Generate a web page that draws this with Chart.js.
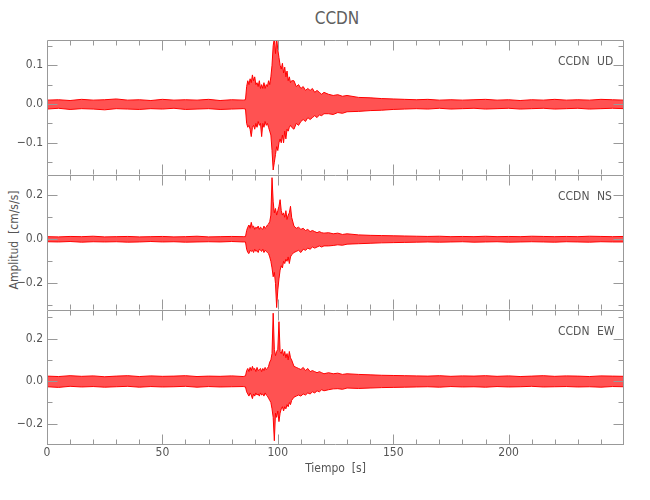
<!DOCTYPE html>
<html>
<head>
<meta charset="utf-8">
<script src="https://cdn.jsdelivr.net/npm/chart.js@4.4.1/dist/chart.umd.min.js"></script>
<style>
  html, body { margin: 0; padding: 0; background: #fff; }
  #wrap {
    position: relative; width: 650px; height: 500px; overflow: hidden;
    font-family: "Liberation Sans Narrow", "DejaVu Sans Condensed", "Liberation Sans", sans-serif;
    color: #555;
  }
  #wrap canvas { position: absolute; left: 0; }
  #title { position: absolute; left: 0; width: 674px; top: 8px; text-align: center; font-size: 17px; color: #606060; }
  #ylabel {
    position: absolute; left: 14px; top: 240px; white-space: nowrap; font-size: 12px; color: #555;
    transform: translate(-50%, -50%) rotate(-90deg);
  }
</style>
</head>
<body>
<div id="wrap">
  <div id="title">CCDN</div>
  <div id="ylabel">Amplitud&nbsp;&nbsp;[cm/s/s]</div>
  <canvas id="ud" width="650" height="135" style="top:40px"></canvas>
  <canvas id="ns" width="650" height="135" style="top:175px"></canvas>
  <canvas id="ew" width="650" height="190" style="top:310px"></canvas>
</div>
<script>
// sample times [s] of the envelope
const times = [
  0, 5, 10, 15, 20, 25, 30, 35, 40, 45, 50, 55, 60, 65, 70, 75, 80, 85,
  86, 86.5, 87, 87.5, 88, 88.5, 89, 89.5, 90, 90.5, 91, 91.5, 92, 92.5, 93, 93.5, 94, 94.5, 95, 95.5,
  96, 96.5, 97, 97.5, 98, 98.5, 99, 99.5, 100, 100.5, 101, 101.5, 102, 102.5, 103, 103.5, 104, 104.5, 105, 105.5, 106,
  107, 108, 109, 110, 111, 112, 113, 114, 115, 116, 117, 118, 119, 120,
  122, 124, 126, 128, 130,
  135, 140, 145, 150, 155, 160, 165, 170, 175, 180, 185, 190, 195, 200, 205, 210, 215, 220, 225, 230, 235, 240, 245, 250
];

// UD component: upper / lower envelope [cm/s/s]
const udHigh = [
  0.010, 0.011, 0.009, 0.012, 0.010, 0.011, 0.013, 0.010, 0.011, 0.009, 0.012, 0.010, 0.011, 0.010, 0.012, 0.009, 0.011, 0.010,
  0.011, 0.045, 0.06, 0.05, 0.065, 0.055, 0.075, 0.06, 0.07, 0.05, 0.055, 0.045, 0.06, 0.04, 0.05, 0.04, 0.055, 0.04, 0.05, 0.045,
  0.06, 0.05, 0.07, 0.1, 0.15, 0.17, 0.13, 0.17, 0.14, 0.12, 0.1, 0.09, 0.105, 0.08, 0.095, 0.07, 0.085, 0.06, 0.07, 0.055, 0.06,
  0.06, 0.045, 0.05, 0.04, 0.045, 0.035, 0.04, 0.035, 0.04, 0.03, 0.035, 0.03, 0.025, 0.03,
  0.025, 0.022, 0.024, 0.02, 0.022,
  0.017, 0.016, 0.014, 0.013, 0.012, 0.011, 0.012, 0.010, 0.011, 0.010, 0.011, 0.012, 0.010, 0.011, 0.009, 0.011, 0.010, 0.012, 0.010, 0.011, 0.010, 0.012, 0.011, 0.010
];
const udLow = [
  -0.013, -0.011, -0.014, -0.012, -0.013, -0.015, -0.012, -0.013, -0.014, -0.012, -0.013, -0.011, -0.014, -0.013, -0.012, -0.014, -0.013, -0.012,
  -0.013, -0.05, -0.06, -0.055, -0.065, -0.084, -0.06, -0.055, -0.065, -0.05, -0.06, -0.045, -0.055, -0.05, -0.084, -0.05, -0.06, -0.045, -0.055, -0.05,
  -0.06, -0.07, -0.08, -0.12, -0.17, -0.15, -0.13, -0.11, -0.12, -0.1, -0.09, -0.1, -0.08, -0.1, -0.07, -0.09, -0.065, -0.07, -0.06, -0.055, -0.06,
  -0.065, -0.05, -0.055, -0.045, -0.04, -0.045, -0.035, -0.04, -0.035, -0.03, -0.035, -0.028, -0.03, -0.025,
  -0.025, -0.027, -0.022, -0.024, -0.02,
  -0.019, -0.017, -0.016, -0.014, -0.013, -0.012, -0.013, -0.011, -0.013, -0.012, -0.011, -0.013, -0.012, -0.011, -0.013, -0.012, -0.011, -0.013, -0.012, -0.011, -0.013, -0.012, -0.011, -0.012
];

// NS component
const nsHigh = [
  0.012, 0.011, 0.013, 0.012, 0.014, 0.011, 0.012, 0.013, 0.011, 0.012, 0.013, 0.011, 0.012, 0.014, 0.011, 0.012, 0.013, 0.012,
  0.012, 0.04, 0.055, 0.065, 0.05, 0.077, 0.055, 0.06, 0.045, 0.055, 0.05, 0.06, 0.045, 0.055, 0.05, 0.045, 0.06, 0.05, 0.055, 0.065,
  0.07, 0.08, 0.11, 0.28, 0.17, 0.12, 0.14, 0.11, 0.13, 0.15, 0.18, 0.13, 0.11, 0.12, 0.1, 0.13, 0.09, 0.11, 0.12, 0.15, 0.1,
  0.06, 0.05, 0.055, 0.045, 0.05, 0.04, 0.045, 0.035, 0.04, 0.035, 0.03, 0.035, 0.03, 0.028,
  0.03, 0.025, 0.028, 0.022, 0.025,
  0.02, 0.018, 0.017, 0.016, 0.015, 0.014, 0.013, 0.014, 0.012, 0.013, 0.012, 0.014, 0.012, 0.013, 0.012, 0.014, 0.013, 0.012, 0.013, 0.012, 0.014, 0.013, 0.012, 0.013
];
const nsLow = [
  -0.011, -0.012, -0.010, -0.013, -0.011, -0.012, -0.011, -0.013, -0.012, -0.010, -0.012, -0.011, -0.013, -0.012, -0.011, -0.012, -0.010, -0.012,
  -0.012, -0.045, -0.06, -0.065, -0.05, -0.055, -0.05, -0.06, -0.045, -0.055, -0.05, -0.06, -0.045, -0.05, -0.055, -0.045, -0.06, -0.05, -0.055, -0.06,
  -0.065, -0.08, -0.1, -0.13, -0.17, -0.15, -0.2, -0.31, -0.23, -0.18, -0.14, -0.12, -0.13, -0.1, -0.11, -0.09, -0.1, -0.08, -0.11, -0.08, -0.07,
  -0.06, -0.055, -0.05, -0.06, -0.045, -0.05, -0.04, -0.045, -0.035, -0.04, -0.035, -0.03, -0.035, -0.03,
  -0.03, -0.028, -0.025, -0.027, -0.022,
  -0.02, -0.018, -0.016, -0.015, -0.014, -0.013, -0.012, -0.013, -0.012, -0.011, -0.013, -0.012, -0.011, -0.013, -0.012, -0.011, -0.012, -0.013, -0.011, -0.012, -0.013, -0.011, -0.012, -0.012
];

// EW component
const ewHigh = [
  0.024, 0.022, 0.026, 0.023, 0.025, 0.021, 0.024, 0.026, 0.022, 0.025, 0.023, 0.024, 0.026, 0.022, 0.024, 0.023, 0.025, 0.022,
  0.025, 0.05, 0.06, 0.045, 0.065, 0.05, 0.07, 0.055, 0.06, 0.045, 0.065, 0.05, 0.055, 0.06, 0.045, 0.06, 0.05, 0.065, 0.055, 0.06,
  0.07, 0.09, 0.1, 0.13, 0.32, 0.15, 0.12, 0.14, 0.15, 0.28, 0.14, 0.13, 0.15, 0.12, 0.14, 0.11, 0.13, 0.1, 0.14, 0.11, 0.1,
  0.07, 0.065, 0.06, 0.055, 0.065, 0.05, 0.06, 0.045, 0.05, 0.045, 0.04, 0.045, 0.04, 0.035,
  0.04, 0.035, 0.038, 0.032, 0.035,
  0.032, 0.03, 0.028, 0.027, 0.026, 0.025, 0.024, 0.026, 0.023, 0.025, 0.024, 0.026, 0.023, 0.025, 0.022, 0.024, 0.026, 0.023, 0.025, 0.024, 0.022, 0.025, 0.024, 0.023
];
const ewLow = [
  -0.026, -0.029, -0.024, -0.027, -0.025, -0.028, -0.026, -0.024, -0.028, -0.025, -0.027, -0.026, -0.024, -0.028, -0.025, -0.027, -0.026, -0.025,
  -0.027, -0.05, -0.06, -0.07, -0.055, -0.065, -0.082, -0.06, -0.07, -0.055, -0.065, -0.06, -0.07, -0.055, -0.065, -0.06, -0.07, -0.055, -0.065, -0.07,
  -0.08, -0.09, -0.1, -0.13, -0.17, -0.28, -0.15, -0.17, -0.14, -0.19, -0.15, -0.13, -0.12, -0.14, -0.12, -0.13, -0.11, -0.12, -0.1, -0.11, -0.09,
  -0.075, -0.07, -0.065, -0.07, -0.06, -0.065, -0.055, -0.06, -0.05, -0.055, -0.045, -0.05, -0.04, -0.045,
  -0.04, -0.036, -0.035, -0.038, -0.032,
  -0.034, -0.032, -0.03, -0.029, -0.028, -0.027, -0.026, -0.028, -0.025, -0.027, -0.026, -0.028, -0.025, -0.027, -0.026, -0.024, -0.027, -0.026, -0.025, -0.027, -0.026, -0.028, -0.025, -0.026
];

// axis ranges and ticks
const xRange = [0, 250];
const xTickLabels = [0, 50, 100, 150, 200];
const udRange = [-0.183, 0.165], udTicks = [-0.1, 0, 0.1], udMinor = [-0.15, -0.05, 0.05, 0.15];
const nsRange = [-0.321, 0.292], nsTicks = [-0.2, 0, 0.2], nsMinor = [-0.3, -0.1, 0.1];
const ewRange = [-0.30, 0.335], ewTicks = [-0.2, 0, 0.2], ewMinor = [-0.1, 0.1, 0.3];

const FONT = '"Liberation Sans Narrow", "DejaVu Sans Condensed", "Liberation Sans", sans-serif';
const GREY = '#555';
const AXIS = '#999';

function pairs(vals) {
    return times.map((t, i) => ({ x: t, y: vals[i] }));
}

function fmt(v) {
    if (Math.abs(v) < 1e-9) return '0.0';
    return (v < 0 ? '\u2212' : '') + Math.abs(v).toFixed(1);
}

// frame with inward ticks like the original plot, plus the station label
const framePlugin = {
    id: 'frame',
    afterDatasetsDraw(chart, args, opts) {
        const ctx = chart.ctx;
        const a = chart.chartArea;
        const xs = chart.scales.x, ys = chart.scales.y;
        const L = Math.round(a.left) + 0.5, R = Math.round(a.right) - 0.5;
        const T = Math.round(a.top) + 0.5, B = Math.round(a.bottom) - 0.5;
        ctx.save();
        ctx.strokeStyle = AXIS;
        ctx.lineWidth = 1;
        ctx.beginPath();
        ctx.moveTo(L, B + 0.5); ctx.lineTo(L, T); ctx.lineTo(R, T); ctx.lineTo(R, B + 0.5);
        if (opts.bottomLine) { ctx.moveTo(L, B); ctx.lineTo(R, B); }
        for (let v = 10; v < xRange[1]; v += 10) {
            const px = Math.round(xs.getPixelForValue(v)) + 0.5;
            const len = v % 50 === 0 ? 10 : 5;
            ctx.moveTo(px, T); ctx.lineTo(px, T + len);
            ctx.moveTo(px, B); ctx.lineTo(px, B - len);
        }
        const yt = (list, len) => list.forEach(v => {
            const py = Math.round(ys.getPixelForValue(v)) + 0.5;
            ctx.moveTo(L, py); ctx.lineTo(L + len, py);
            ctx.moveTo(R, py); ctx.lineTo(R - len, py);
        });
        yt(opts.major, 10);
        yt(opts.minor, 5);
        ctx.stroke();

        ctx.fillStyle = GREY;
        ctx.font = '12px ' + FONT;
        ctx.textBaseline = 'middle';
        ctx.textAlign = 'left';
        ctx.fillText('CCDN', 558, a.top + 22);
        ctx.fillText(opts.label, 597, a.top + 22);
        ctx.restore();
    }
};

function makePanel(id, high, low, range, ticks, minor, label, showX) {
    const datasets = [
        { data: pairs(high), borderColor: '#ff0000', borderWidth: 1, pointRadius: 0, fill: false },
        { data: pairs(low), borderColor: '#ff0000', borderWidth: 1, pointRadius: 0, fill: '-1',
          backgroundColor: 'rgba(255,0,0,0.68)' }
    ];
    return new Chart(document.getElementById(id), {
        type: 'line',
        data: { datasets: datasets },
        plugins: [framePlugin],
        options: {
            responsive: false,
            animation: false,
            devicePixelRatio: 1,
            layout: { padding: { left: 0, right: 26, top: 0, bottom: 0 } },
            plugins: {
                legend: { display: false },
                tooltip: { enabled: false },
                frame: { major: ticks, minor: minor, label: label, bottomLine: showX }
            },
            elements: { line: { tension: 0 } },
            scales: {
                x: {
                    type: 'linear', min: xRange[0], max: xRange[1],
                    display: showX,
                    border: { display: false },
                    grid: { display: false, drawTicks: false },
                    afterBuildTicks: s => { s.ticks = xTickLabels.map(v => ({ value: v })); },
                    afterFit: s => {
                        s.height = showX ? 55 : 0;
                        s.paddingLeft = 0; s.paddingRight = 0;
                    },
                    ticks: {
                        color: GREY, padding: 1, maxRotation: 0, autoSkip: false,
                        font: { family: FONT, size: 12 },
                        callback: v => String(v)
                    },
                    title: {
                        display: showX, text: 'Tiempo  [s]', color: GREY,
                        font: { family: FONT, size: 12 },
                        padding: { top: 0, bottom: 24 }
                    }
                },
                y: {
                    type: 'linear', min: range[0], max: range[1],
                    border: { display: false },
                    grid: { display: false, drawTicks: false },
                    afterBuildTicks: s => { s.ticks = ticks.map(v => ({ value: v })); },
                    afterFit: s => { s.width = 47; s.paddingTop = 0; s.paddingBottom = 0; },
                    ticks: {
                        color: GREY, padding: 4,
                        font: { family: FONT, size: 12 },
                        callback: v => fmt(v)
                    }
                }
            }
        }
    });
}

makePanel('ud', udHigh, udLow, udRange, udTicks, udMinor, 'UD', false);
makePanel('ns', nsHigh, nsLow, nsRange, nsTicks, nsMinor, 'NS', false);
makePanel('ew', ewHigh, ewLow, ewRange, ewTicks, ewMinor, 'EW', true);
</script>
</body>
</html>
